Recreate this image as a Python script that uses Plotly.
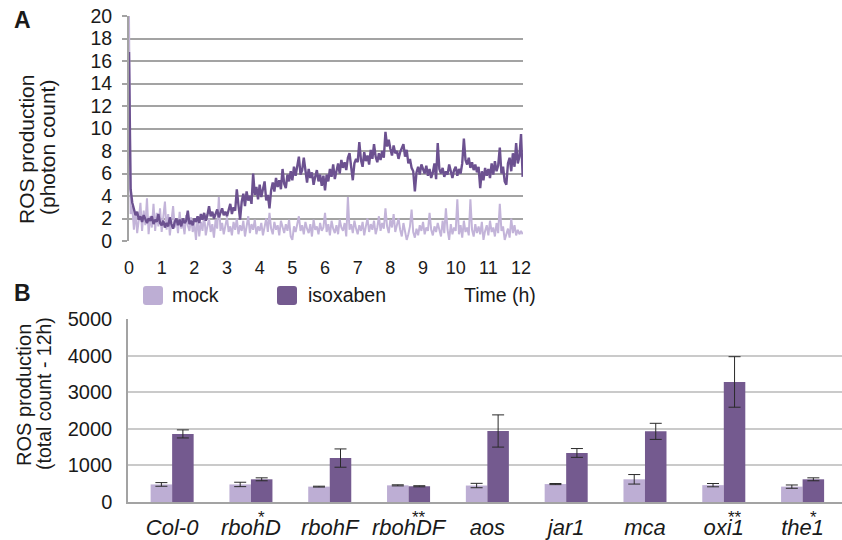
import plotly.graph_objects as go

W, H = 842, 540
FONT = "Liberation Sans, Arial, Helvetica, sans-serif"

MOCK_LINE = "#C3B4D9"
ISO_LINE = "#6C5190"
MOCK_BAR = "#BDAED4"
ISO_BAR = "#745A8F"
GRID_A = "#A3A3A3"
GRID_B = "#CACACA"
INK = "#1A1A1A"

# ---------------- Panel A: ROS time course (photon count), one reading every 0.05 h
time_step_h = 0.05

ros_isoxaben = [
    # 0 h
    16.8, 4.6, 3.4, 2.7, 2.3, 2.6, 1.9, 2.2, 1.7, 2.3, 1.9, 1.6, 2.0, 1.8, 2.2, 1.5, 1.9, 1.7, 2.4, 1.6,
    # 1 h
    1.4, 1.8, 1.2, 1.6, 1.3, 2.1, 1.5, 1.1, 1.7, 2.0, 1.4, 1.9, 1.3, 2.0, 1.6, 1.8, 2.7, 1.5, 1.8, 1.4,
    # 2 h
    2.0, 1.7, 2.2, 1.6, 2.4, 1.9, 2.5, 1.8, 2.3, 3.1, 2.2, 2.6, 2.0, 2.4, 2.8, 2.1, 2.5, 2.9, 2.3, 2.6,
    # 3 h
    2.2, 2.9, 3.3, 2.4, 3.0, 2.7, 4.6, 3.2, 1.9, 3.5, 4.2, 3.1, 4.4, 3.6, 4.0, 3.3, 6.0, 4.1, 4.8, 3.7,
    # 4 h
    5.0, 3.9, 4.6, 5.3, 3.6, 4.1, 2.9, 4.5, 5.2, 4.4, 5.6, 4.8, 5.4, 4.6, 6.4, 5.1, 4.7, 5.9, 5.3, 6.2,
    # 5 h
    5.4, 6.6, 5.8, 6.9, 7.5, 5.9, 6.3, 7.4, 6.0, 5.2, 6.4, 5.6, 6.1, 5.0, 5.7, 6.3, 5.3, 5.9, 4.9, 5.8,
    # 6 h
    4.5, 5.9, 5.3, 6.4, 5.7, 6.8, 5.5, 6.2, 6.9, 6.0, 7.2, 6.5, 7.0, 6.3, 7.4, 7.8, 6.6, 5.4, 6.9, 7.3,
    # 7 h
    7.0, 8.8, 7.2, 6.6, 7.9, 7.1, 7.6, 6.8, 8.1, 7.3, 8.6, 7.5, 7.0, 7.8, 7.2, 8.0, 7.4, 9.7, 8.4, 9.0,
    # 8 h
    8.2, 7.6, 8.5, 7.8, 8.0, 7.3, 7.9, 8.3, 8.6, 7.5, 8.1, 6.9, 7.3, 6.5, 6.2, 4.4, 6.1, 6.6, 5.9, 6.8,
    # 9 h
    6.3, 6.0, 6.7, 5.8, 6.4, 5.6, 6.1, 6.9, 5.5, 8.7, 6.4, 6.0, 6.5, 5.7, 6.2, 5.9, 6.8, 6.1, 5.6, 6.3,
    # 10 h
    6.6, 5.8, 6.4, 6.0, 6.9, 9.1, 7.2, 6.8, 7.4, 6.5, 7.0, 6.3, 6.8, 6.1, 6.6, 4.7, 6.2, 5.4, 6.5, 5.8,
    # 11 h
    6.4, 5.6, 6.9, 5.9, 7.1, 6.2, 6.7, 8.3, 6.0, 6.6, 5.3, 5.0, 6.9, 7.4, 6.2, 7.8, 6.6, 8.7, 6.9, 7.5,
    # 12 h
    9.5, 5.7,
]

ros_mock = [
    # 0 h
    20.0, 2.4, 3.1, 1.0, 2.6, 0.7, 1.9, 3.4, 0.9, 2.7, 1.4, 3.8, 0.6, 2.2, 1.2, 3.3, 0.9, 2.5, 1.3, 2.9,
    # 1 h
    0.8, 2.1, 3.5, 1.0, 2.4, 0.5, 1.8, 3.1, 1.2, 2.0, 0.7, 2.6, 1.1, 1.7, 0.6, 2.3, 1.4, 0.9, 2.1, 0.8,
    # 2 h
    1.6, 0.1, 2.2, 0.4, 1.7, 0.9, 2.4, 0.5, 1.3, 2.0, 0.8, 1.5, 0.3, 1.9, 1.1, 3.9, 0.9, 1.6, 0.6, 1.4,
    # 3 h
    2.1, 0.8, 1.3, 0.5, 1.7, 1.0, 2.0, 0.6, 1.4, 0.9, 1.8, 0.4, 1.2, 2.2, 0.7, 1.5, 1.0, 1.9, 0.6, 1.3,
    # 4 h
    0.9, 1.6, 0.5, 1.2, 2.0, 0.8, 2.5, 1.1, 0.6, 1.7, 1.0, 1.4, 0.5, 1.8, 1.2, 0.7, 1.5, 0.9, 1.9, 0.4,
    # 5 h
    0.1, 1.3, 0.8, 1.6, 2.2, 0.9, 1.4, 0.6, 1.7, 1.1, 0.7, 1.5, 0.4, 1.9, 1.0, 1.3, 0.6, 1.6, 0.9, 1.2,
    # 6 h
    2.5, 0.8, 1.5, 0.5, 1.8, 1.1, 0.7, 1.4, 0.6, 1.9, 1.2, 0.9, 1.6, 0.4, 3.9, 1.0, 1.5, 0.7, 1.8, 1.1,
    # 7 h
    0.6, 1.4, 0.9, 1.7, 0.5, 1.3, 2.0, 0.8, 1.5, 1.0, 1.8, 0.6, 1.2, 2.2, 0.9, 1.6, 1.1, 2.9, 1.3, 0.7,
    # 8 h
    1.9, 1.2, 2.4, 0.8, 1.5, 2.0, 1.0, 0.4, 1.6, 0.9, 0.1, 0.6, 1.3, 2.8, 0.8, 0.3, 1.1, 0.5, 1.4, 0.9,
    # 9 h
    1.7, 0.6, 1.2, 0.9, 2.5, 1.0, 0.5, 1.3, 0.8, 1.6, 1.1, 0.4, 1.8, 0.7, 2.9, 1.0, 0.1, 1.5, 0.6, 1.2,
    # 10 h
    0.9, 3.7, 0.6, 1.4, 0.3, 1.8, 0.8, 1.2, 0.5, 3.7, 1.0, 0.4, 1.5, 0.7, 1.3, 0.6, 1.7, 0.1, 0.9, 1.4,
    # 11 h
    0.5, 1.8, 0.8, 1.2, 0.4, 1.6, 0.7, 3.3, 0.9, 1.3, 0.1, 0.6, 1.1, 0.3, 2.0, 0.7, 1.4, 0.5, 1.0, 0.6,
    # 12 h
    0.9, 0.6,
]

time_h = [round(i * time_step_h, 2) for i in range(len(ros_isoxaben))]
time_ticks = list(range(0, 13))
photon_ticks = list(range(0, 21, 2))

# ---------------- Panel B: total ROS over 12 h per genotype
genotypes = ["Col-0", "rbohD", "rbohF", "rbohDF", "aos", "jar1", "mca", "oxi1", "the1"]
mock_total = [480, 480, 420, 455, 450, 490, 620, 460, 420]
mock_err = [50, 60, 12, 15, 60, 15, 130, 45, 45]
iso_total = [1860, 620, 1200, 430, 1940, 1340, 1930, 3280, 620]
iso_err = [110, 40, 250, 15, 440, 120, 220, 690, 40]
significance = ["", "*", "", "**", "", "", "", "**", "*"]
total_ticks = [0, 1000, 2000, 3000, 4000, 5000]


def px_x(p):
    return p / W


def px_y(p):
    return 1 - p / H


fig = go.Figure()

fig.add_trace(go.Scatter(
    x=time_h, y=ros_mock, mode="lines", name="mock",
    line=dict(color=MOCK_LINE, width=2), xaxis="x", yaxis="y", showlegend=False,
))
fig.add_trace(go.Scatter(
    x=time_h, y=ros_isoxaben, mode="lines", name="isoxaben",
    line=dict(color=ISO_LINE, width=2.4), xaxis="x", yaxis="y", showlegend=False,
))

idx = list(range(len(genotypes)))
fig.add_trace(go.Bar(
    x=idx, y=mock_total, name="mock", marker=dict(color=MOCK_BAR, line=dict(width=0)),
    error_y=dict(type="data", array=mock_err, color="#2A2A2A", thickness=1, width=6),
    xaxis="x2", yaxis="y2", showlegend=False,
))
fig.add_trace(go.Bar(
    x=idx, y=iso_total, name="isoxaben", marker=dict(color=ISO_BAR, line=dict(width=0)),
    error_y=dict(type="data", array=iso_err, color="#2A2A2A", thickness=1, width=6),
    xaxis="x2", yaxis="y2", showlegend=False,
))

fig.update_layout(
    template="none",
    width=W, height=H,
    margin=dict(l=0, r=0, t=0, b=0, pad=0),
    paper_bgcolor="white", plot_bgcolor="white",
    barmode="group", bargap=0.454, bargroupgap=0,
    font=dict(family=FONT, color=INK),
    xaxis=dict(
        domain=[px_x(129), px_x(523)], anchor="y", range=[0, 12.06], automargin=False,
        tickmode="array", tickvals=time_ticks, ticktext=[str(t) for t in time_ticks],
        showgrid=False, zeroline=False, showline=False, ticks="",
        tickfont=dict(family=FONT, size=18, color=INK), ticklabelstandoff=14,
    ),
    yaxis=dict(
        domain=[px_y(241), px_y(16)], anchor="x", range=[0, 20], automargin=False,
        tickmode="array", tickvals=photon_ticks,
        showgrid=True, gridcolor=GRID_A, gridwidth=2, zeroline=False,
        showline=True, linecolor=GRID_A, linewidth=2,
        ticks="outside", ticklen=5, tickcolor=GRID_A, tickwidth=2,
        tickfont=dict(family=FONT, size=19.5, color=INK), ticklabelstandoff=6,
    ),
    xaxis2=dict(
        domain=[px_x(128), 1.0], anchor="y2", range=[-0.56, 8.5], automargin=False,
        tickmode="array", tickvals=idx, ticktext=[f"<i>{g}</i>" for g in genotypes],
        showgrid=False, zeroline=False, showline=True, linecolor=GRID_A, linewidth=1.5,
        ticks="", tickfont=dict(family=FONT, size=22, color=INK), ticklabelstandoff=5,
    ),
    yaxis2=dict(
        domain=[px_y(502), px_y(319)], anchor="x2", range=[0, 5000], automargin=False,
        tickmode="array", tickvals=total_ticks,
        showgrid=True, gridcolor=GRID_B, gridwidth=1.5, zeroline=False,
        showline=True, linecolor=GRID_A, linewidth=1.5,
        ticks="", tickfont=dict(family=FONT, size=20, color=INK), ticklabelstandoff=10,
    ),
)

annotations = []
shapes = []


def label(text, x, y, size, xref="paper", angle=0, xanchor="center"):
    return dict(text=text, x=x, y=y, xref=xref, yref="paper", showarrow=False,
                xanchor=xanchor, yanchor="middle", textangle=angle,
                font=dict(family=FONT, size=size, color=INK))


# panel letters
annotations.append(label("<b>A</b>", px_x(22), px_y(20), 23))
annotations.append(label("<b>B</b>", px_x(22), px_y(293), 23))

# axis titles, one annotation per line
annotations.append(label("ROS production", px_x(26), px_y(150), 21, angle=-90))
annotations.append(label("(photon count)", px_x(47), px_y(148), 21, angle=-90))
annotations.append(label("ROS production", px_x(24), px_y(395), 20, angle=-90))
annotations.append(label("(total count - 12h)", px_x(44), px_y(394), 19.5, angle=-90))


def rounded_square(x0, y0, x1, y1, r=3):
    # rounded rectangle in paper units, corners given in pixels
    X0, X1 = px_x(x0), px_x(x1)
    Y0, Y1 = px_y(y1), px_y(y0)
    rx, ry = r / W, r / H
    return (f"M {X0 + rx} {Y0} L {X1 - rx} {Y0} Q {X1} {Y0} {X1} {Y0 + ry} "
            f"L {X1} {Y1 - ry} Q {X1} {Y1} {X1 - rx} {Y1} L {X0 + rx} {Y1} "
            f"Q {X0} {Y1} {X0} {Y1 - ry} L {X0} {Y0 + ry} Q {X0} {Y0} {X0 + rx} {Y0} Z")


# legend row
legend_items = [("mock", MOCK_BAR, 143, 170), ("isoxaben", ISO_BAR, 277, 306)]
for name, colour, sx, tx in legend_items:
    shapes.append(dict(type="path", xref="paper", yref="paper",
                       path=rounded_square(sx, 286, sx + 20, 305),
                       fillcolor=colour, line=dict(width=0)))
    annotations.append(label(name, px_x(tx), px_y(295), 19.5, xanchor="left"))
annotations.append(label("Time (h)", px_x(538), px_y(295), 19.5, xanchor="right"))

# significance marks over the isoxaben bars, just under the axis;
# the text box is cut to the height of the asterisk glyph
for i, mark in enumerate(significance):
    if mark:
        annotations.append(dict(
            text=mark, x=i + 0.137, y=px_y(506), xref="x2", yref="paper",
            xanchor="center", yanchor="top", valign="top", height=9,
            showarrow=False, font=dict(family=FONT, size=17, color=INK),
        ))

fig.update_layout(annotations=annotations, shapes=shapes)

fig.write_html("out.html")
